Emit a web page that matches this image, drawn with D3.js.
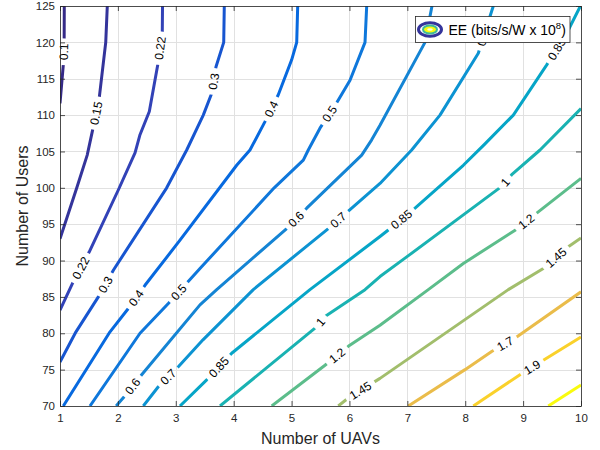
<!DOCTYPE html>
<html>
<head>
<meta charset="utf-8">
<script src="https://cdn.jsdelivr.net/npm/d3@7"></script>
<style>
  body { margin: 0; background: #fff; }
  text { font-family: "Liberation Sans", Arial, Helvetica, sans-serif; }
</style>
</head>
<body>
<script>
// Axis ticks
var uavTicks = [1, 2, 3, 4, 5, 6, 7, 8, 9, 10];
var userTicks = [70, 75, 80, 85, 90, 95, 100, 105, 110, 115, 120, 125];

// Contour levels (EE, bits/s/W x 10^8)
var levels = [0.1, 0.15, 0.22, 0.3, 0.4, 0.5, 0.6, 0.7, 0.85, 1, 1.2, 1.45, 1.7, 1.9, 2.1];

// Contour lines: [number of UAVs, number of users]
var ee010 = [[1.074, 125], [1.072, 120.6], [1.057, 116.9], [1.0, 111.6]];
var ee015 = [[1.817, 125], [1.79, 120], [1.68, 112.5], [1.565, 108], [1.47, 104.5], [1.29, 100], [1.0, 93]];
var ee022 = [[2.771, 125], [2.767, 121.5], [2.688, 116.9], [2.543, 110.5], [2.382, 107.3], [2.296, 104.8],
             [2.007, 99.7], [1.506, 91.2], [1.23, 87.1], [1.0, 83.2]];
var ee030 = [[3.838, 125], [3.828, 120], [3.695, 116.65], [3.621, 113], [3.475, 110], [3.189, 105.2],
             [2.843, 100], [1.924, 88.7], [1.662, 85], [1.276, 80.2], [1.0, 76.05]];
var ee040 = [[5.106, 125], [5.089, 120], [5.002, 117.6], [4.771, 112.8], [4.541, 109.1], [4.282, 105.2],
             [4.052, 103.1], [3.073, 92.8], [2.468, 86.6], [2.18, 83.4], [1.864, 80.2], [1.057, 70]];
var ee050 = [[6.298, 125], [6.269, 120], [6.01, 114.8], [5.78, 111.7], [5.491, 108.2], [5.289, 105.2],
             [5.203, 103.8], [4.7, 100], [3.418, 88.9], [2.871, 84.1], [2.382, 80], [1.518, 70]];
var ee060 = [[7.426, 125], [7.305, 120], [6.528, 108.6], [6.384, 106.6], [6.212, 104.5], [5.262, 97.2],
             [4.916, 94.4], [3.707, 86], [3.418, 83.9], [2.411, 74.3], [2.123, 71.4], [1.97, 70]];
var ee070 = [[8.485, 125], [8.226, 118.5], [7.564, 110], [7.075, 105.2], [6.528, 100.6], [6.01, 97],
             [5.635, 94.4], [4.339, 86], [3.47, 79.1], [3.044, 75.4], [2.698, 72.65], [2.439, 70]];
var ee085 = [[9.99, 125], [9.781, 121.7], [9.408, 116.9], [8.831, 110], [8.324, 105.9], [7.967, 103.1],
             [7.133, 97.2], [6.671, 94.2], [6.528, 93.3], [5.318, 86], [3.966, 77.25], [3.534, 73.6], [3.073, 70]];
var ee100 = [[10, 110.9], [9.292, 105.2], [8.803, 101.8], [8.63, 100.2], [6.989, 90.5], [6.528, 87.8],
             [6.269, 86], [5.578, 82.3], [5.405, 80.7], [3.764, 70]];
var ee120 = [[10, 101.3], [9.262, 96.7], [8.889, 94.3], [7.967, 89.6], [7.362, 86], [6.528, 81.1],
             [5.98, 78.2], [5.578, 75.6], [4.657, 70]];
var ee145 = [[10, 93.1], [9.781, 91.9], [9.349, 88.9], [8.744, 86], [6.528, 73.8], [5.98, 71.1], [5.807, 70]];
var ee170 = [[10, 85.7], [8.889, 79.5], [8.457, 77.5], [7.996, 75], [7.017, 70]];
var ee190 = [[10, 79.5], [9.349, 76.3], [8.946, 74.3], [8.14, 70]];
var ee210 = [[10, 72.9], [9.435, 70]];

var contourLines = [ee010, ee015, ee022, ee030, ee040, ee050, ee060, ee070,
                    ee085, ee100, ee120, ee145, ee170, ee190, ee210];

// Inline labels: [level, UAVs, users]
var labelSpots = [
  [0.1, 1.069, 118.7],
  [0.15, 1.634, 110.25],
  [0.22, 2.727, 119.2], [0.22, 1.375, 88.9],
  [0.3, 3.678, 114.6], [0.3, 1.807, 86.6],
  [0.4, 4.685, 110.7], [0.4, 2.325, 84.8],
  [0.5, 5.693, 110.0], [0.5, 3.044, 85.7],
  [0.6, 5.089, 95.6], [0.6, 2.266, 72.65],
  [0.7, 8.359, 120.5], [0.7, 5.837, 95.3], [0.7, 2.871, 74.0],
  [0.85, 9.608, 118.95], [0.85, 6.903, 95.6], [0.85, 3.764, 75.2],
  [1, 8.687, 100.8], [1, 5.491, 81.6],
  [1.2, 9.062, 95.3], [1.2, 5.78, 77.0],
  [1.45, 9.58, 90.3], [1.45, 6.182, 72.2],
  [1.7, 8.687, 78.6],
  [1.9, 9.148, 75.4]
];

// parula colour map (every 4th row of the 64-row table, plus the last)
var parula = [
  [0.2081, 0.1663, 0.5292], [0.1959, 0.2645, 0.7279], [0.0117, 0.3875, 0.8820], [0.0498, 0.4586, 0.8641],
  [0.0793, 0.5200, 0.8312], [0.0343, 0.5966, 0.8199], [0.0228, 0.6535, 0.7768], [0.0843, 0.6928, 0.7062],
  [0.2586, 0.7317, 0.5954], [0.4871, 0.7491, 0.4840], [0.6834, 0.7435, 0.4044], [0.8507, 0.7299, 0.3360],
  [0.9938, 0.7455, 0.2403], [0.9789, 0.8271, 0.1633], [0.9598, 0.9218, 0.0948], [0.9763, 0.9831, 0.0538]
];
var parulaT = [0, 4, 8, 12, 16, 20, 24, 28, 32, 38, 44, 48, 53, 57, 61, 63];

function init() {
    var w = 600;
    var h = 450;
    var left = 60, right = 581, top = 6, bottom = 406;

    var x = d3.scaleLinear().domain([1, 10]).range([left, right]);
    var y = d3.scaleLinear().domain([70, 125]).range([bottom, top]);

    var lo = d3.min(levels), hi = d3.max(levels);
    var color = d3.scaleLinear()
        .domain(parulaT.map(function(t) { return lo + t / 63 * (hi - lo); }))
        .range(parula.map(function(c) { return d3.rgb(c[0] * 255, c[1] * 255, c[2] * 255); }));

    var svg = d3.select("body").append("svg")
        .attr("width", w)
        .attr("height", h);

    var defs = svg.append("defs");
    defs.append("clipPath").attr("id", "plotClip")
        .append("rect")
        .attr("x", left).attr("y", top)
        .attr("width", right - left).attr("height", bottom - top);

    var mask = defs.append("mask").attr("id", "labelGaps")
        .attr("maskUnits", "userSpaceOnUse")
        .attr("x", 0).attr("y", 0).attr("width", w).attr("height", h);
    mask.append("rect").attr("width", w).attr("height", h).attr("fill", "white");

    // Grid
    var grid = svg.append("g").attr("stroke", "#e1e1e1").attr("stroke-width", 1);
    grid.selectAll("line.vx").data(uavTicks).enter().append("line")
        .attr("x1", function(d) { return Math.round(x(d)) + 0.5; })
        .attr("x2", function(d) { return Math.round(x(d)) + 0.5; })
        .attr("y1", top).attr("y2", bottom);
    grid.selectAll("line.hy").data(userTicks).enter().append("line")
        .attr("y1", function(d) { return Math.round(y(d)) + 0.5; })
        .attr("y2", function(d) { return Math.round(y(d)) + 0.5; })
        .attr("x1", left).attr("x2", right);

    // Contour lines
    var line = d3.line()
        .x(function(d) { return x(d[0]); })
        .y(function(d) { return y(d[1]); });

    svg.append("g").attr("clip-path", "url(#plotClip)")
        .append("g").attr("mask", "url(#labelGaps)")
        .selectAll("path")
        .data(contourLines)
        .enter()
        .append("path")
        .attr("d", line)
        .attr("fill", "none")
        .attr("stroke", function(d, i) { return color(levels[i]); })
        .attr("stroke-width", 3)
        .attr("stroke-linejoin", "round");

    // Labels: snap to the nearest point of the line and follow its direction
    var labels = svg.append("g");
    labelSpots.forEach(function(s) {
        var pts = contourLines[levels.indexOf(s[0])].map(function(p) { return [x(p[0]), y(p[1])]; });
        var px = x(s[1]), py = y(s[2]);
        var best = null;
        for (var i = 0; i < pts.length - 1; i++) {
            var ax = pts[i][0], ay = pts[i][1], bx = pts[i + 1][0], by = pts[i + 1][1];
            var dx = bx - ax, dy = by - ay;
            var t = ((px - ax) * dx + (py - ay) * dy) / (dx * dx + dy * dy);
            t = Math.max(0, Math.min(1, t));
            var qx = ax + t * dx, qy = ay + t * dy;
            var dist = (qx - px) * (qx - px) + (qy - py) * (qy - py);
            if (best == null || dist < best.dist) best = {dist: dist, x: qx, y: qy, dx: dx, dy: dy};
        }
        var ang = Math.atan2(best.dy, best.dx) * 180 / Math.PI;
        if (ang > 90) ang -= 180;
        if (ang <= -90) ang += 180;
        var tr = "translate(" + best.x + "," + best.y + ") rotate(" + ang + ")";

        var txt = labels.append("text")
            .attr("transform", tr)
            .attr("text-anchor", "middle")
            .attr("dy", "0.36em")
            .attr("font-size", "12px")
            .attr("fill", "#000")
            .text(String(s[0]));
        var tw = txt.node().getComputedTextLength();
        mask.append("rect")
            .attr("transform", tr)
            .attr("x", -tw / 2 - 5).attr("y", -6)
            .attr("width", tw + 10).attr("height", 12)
            .attr("fill", "black");
    });

    // Axes (ticks point inwards, box on)
    var axisColor = "#262626";
    var gx = svg.append("g").attr("transform", "translate(0," + bottom + ")")
        .call(d3.axisBottom(x).tickValues(uavTicks).tickSizeInner(-5).tickSizeOuter(0).tickPadding(8));
    var gy = svg.append("g").attr("transform", "translate(" + left + ",0)")
        .call(d3.axisLeft(y).tickValues(userTicks).tickSizeInner(-5).tickSizeOuter(0).tickPadding(5));
    var gt = svg.append("g").attr("transform", "translate(0," + top + ")")
        .call(d3.axisTop(x).tickValues(uavTicks).tickSizeInner(-5).tickSizeOuter(0).tickFormat(""));
    var gr = svg.append("g").attr("transform", "translate(" + right + ",0)")
        .call(d3.axisRight(y).tickValues(userTicks).tickSizeInner(-5).tickSizeOuter(0).tickFormat(""));
    [gx, gy, gt, gr].forEach(function(g) {
        g.selectAll("path, line").attr("stroke", axisColor).attr("stroke-width", 0.8);
        g.selectAll("text").attr("fill", axisColor).attr("font-size", "11.5px")
            .style("font-family", "'Liberation Sans', Arial, sans-serif");
    });

    // Axis titles
    svg.append("text")
        .attr("x", (left + right) / 2).attr("y", 444)
        .attr("text-anchor", "middle")
        .attr("font-size", "16px")
        .attr("fill", axisColor)
        .text("Number of UAVs");
    svg.append("text")
        .attr("transform", "translate(28," + ((top + bottom) / 2) + ") rotate(-90)")
        .attr("text-anchor", "middle")
        .attr("font-size", "16px")
        .attr("fill", axisColor)
        .text("Number of Users");

    // Legend
    var lg = svg.append("g");
    lg.append("rect")
        .attr("x", 415.5).attr("y", 16.5).attr("width", 154.5).attr("height", 26)
        .attr("fill", "#fff").attr("stroke", axisColor).attr("stroke-width", 0.8);
    lg.append("ellipse").attr("cx", 430).attr("cy", 29.5).attr("rx", 11.5).attr("ry", 6.8)
        .attr("fill", "#fff").attr("stroke", color(levels[1])).attr("stroke-width", 3);
    lg.append("ellipse").attr("cx", 430).attr("cy", 29.5).attr("rx", 7).attr("ry", 3.9)
        .attr("fill", "#f9fb0e").attr("stroke", color(1.1)).attr("stroke-width", 2);
    lg.append("ellipse").attr("cx", 430).attr("cy", 29.5).attr("rx", 2.8).attr("ry", 1.3)
        .attr("fill", "#fdfde0");
    var lt = lg.append("text")
        .attr("x", 448.5).attr("y", 34.8)
        .attr("font-size", "14px")
        .attr("fill", "#000");
    lt.append("tspan").text("EE (bits/s/W x 10");
    lt.append("tspan").attr("dy", -5.5).attr("font-size", "9.5px").text("8");
    lt.append("tspan").attr("dy", 5.5).text(")");
}
window.onload = init;
</script>
</body>
</html>
